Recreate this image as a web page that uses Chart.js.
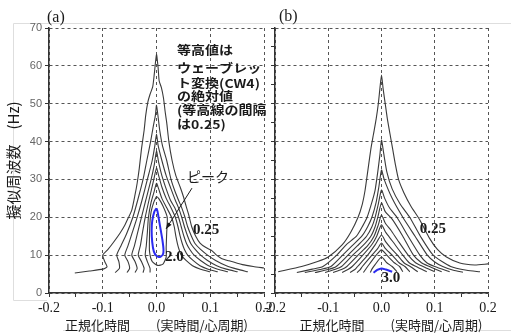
<!DOCTYPE html>
<html>
<head>
<meta charset="utf-8">
<script src="https://cdn.jsdelivr.net/npm/chart.js@4.4.1/dist/chart.umd.min.js"></script>
<style>
html, body { margin: 0; padding: 0; background: #fff; }
#wrap { position: relative; width: 511px; height: 333px; }
#wrap canvas { position: absolute; left: 0; top: 0; }
</style>
</head>
<body>
<div id="wrap">
  <canvas id="chartA" width="511" height="333"></canvas>
  <canvas id="chartB" width="511" height="333"></canvas>
</div>
<script>
// contour lines, [time, Hz]
// (a) levels 0.25 ... 1.75, peak (2.0) in blue
const contourA1 = [[-0.152,5.3],[-0.125,5.8],[-0.1,6.3],[-0.092,6.9],[-0.096,8.2],[-0.1,10],[-0.091,11.4],[-0.081,13.2],[-0.068,15.8],[-0.059,17.9],[-0.052,20],[-0.046,21.9],[-0.04,25.9],[-0.036,29],[-0.032,33],[-0.028,38],[-0.023,43],[-0.02,47],[-0.016,50.5],[-0.012,52.5],[-0.007,54.5],[-0.004,58],[0,63],[0.003,59.5],[0.005,56],[0.009,54.3],[0.013,51.5],[0.016,48],[0.019,45],[0.023,40],[0.029,35],[0.036,31],[0.044,28],[0.05,25.5],[0.055,23],[0.06,20.6],[0.0655,17.5],[0.073,15],[0.081,13.2],[0.092,12],[0.103,11.2],[0.11,10.2],[0.12,9.2],[0.135,8.5],[0.16,7.5],[0.18,7],[0.2,6.6]];
const contourA2 = [[-0.077,5.4],[-0.069,6.5],[-0.07,8.3],[-0.074,10],[-0.066,12.5],[-0.056,15.5],[-0.044,20],[-0.035,24.5],[-0.025,30],[-0.018,35],[-0.011,40],[-0.006,44],[-0.002,47],[0,49.6],[0.003,46.5],[0.006,43],[0.011,39],[0.019,35],[0.027,30],[0.034,27],[0.041,24.5],[0.047,22.5],[0.053,20],[0.058,17.5],[0.065,15],[0.072,13],[0.082,11.5],[0.095,10],[0.11,8.6],[0.13,7.2],[0.15,6.3],[0.17,5.6]];
const contourA3 = [[-0.055,5.4],[-0.05,6.5],[-0.053,8.3],[-0.059,10],[-0.053,12.5],[-0.045,16],[-0.036,20],[-0.027,24.5],[-0.017,30],[-0.008,35],[-0.003,39],[0,42],[0.003,39],[0.01,35],[0.018,31],[0.027,27.5],[0.035,24.5],[0.041,22.5],[0.047,20],[0.052,17.5],[0.058,15],[0.064,13],[0.072,11.5],[0.082,10],[0.095,8.6],[0.112,7.2],[0.13,6.3],[0.151,5.6]];
const contourA4 = [[-0.04,5.4],[-0.036,6.5],[-0.04,8.3],[-0.046,10],[-0.041,12.5],[-0.035,16],[-0.028,20],[-0.02,24.5],[-0.01,30],[-0.004,34],[0,37.5],[0.004,34.5],[0.01,31],[0.018,27.5],[0.026,24.5],[0.034,22.5],[0.041,20],[0.046,17.5],[0.051,15],[0.056,13],[0.062,11.5],[0.07,10],[0.082,8.6],[0.097,7.2],[0.114,6.3],[0.133,5.6]];
const contourA5 = [[-0.025,5.4],[-0.023,6.5],[-0.028,8.3],[-0.034,10],[-0.03,12.5],[-0.026,16],[-0.021,20],[-0.014,24.5],[-0.005,30],[0,33],[0.004,31],[0.01,28],[0.018,25],[0.027,22.5],[0.035,20],[0.04,17.5],[0.044,15],[0.048,13],[0.052,11.5],[0.058,10],[0.068,8.6],[0.081,7.2],[0.096,6.3],[0.114,5.6]];
const contourA6 = [[-0.012,5.4],[-0.012,6.5],[-0.017,8.3],[-0.021,10],[-0.019,12.5],[-0.017,16],[-0.015,20],[-0.01,24],[-0.004,27],[0,29],[0.004,27.5],[0.01,25],[0.019,22.5],[0.028,20],[0.033,17.5],[0.036,15],[0.039,13],[0.042,11.5],[0.046,10],[0.055,8.6],[0.067,7.2],[0.082,6.3],[0.1,5.6]];
const contourA7 = [[0,25.5],[-0.005,24],[-0.01,21.5],[-0.012,19],[-0.013,15],[-0.013,11],[-0.008,8.3],[0.002,7.3],[0.012,7.6],[0.018,9.5],[0.018,12],[0.019,16],[0.02,20],[0.012,23],[0.004,25],[0,25.5]];
const peakA = [[0,22.4],[-0.004,21.5],[-0.008,19],[-0.009,16.5],[-0.008,13.5],[-0.005,11],[0,9.8],[0.006,9.5],[0.012,10.2],[0.013,11.5],[0.011,14],[0.008,16.5],[0.005,19],[0.002,21.5],[0,22.4]];

// (b) levels 0.25 ... 2.75, peak (3.0) in blue
const contourB1 = [[-0.194,5.6],[-0.15,7],[-0.12,8.3],[-0.1,9.5],[-0.074,12.7],[-0.058,16],[-0.044,20],[-0.036,23.5],[-0.031,27],[-0.025,33],[-0.02,38],[-0.015,42],[-0.01,46],[-0.006,50],[-0.003,54],[0,57.6],[0.003,54],[0.007,50],[0.011,46],[0.016,42],[0.021,38],[0.026,34],[0.032,30],[0.042,26.5],[0.055,23],[0.072,19.3],[0.09,14.5],[0.105,11.5],[0.122,9.5],[0.147,7.9],[0.175,7.4],[0.2,7.7]];
const contourB2 = [[-0.159,5.4],[-0.13,6.3],[-0.11,7],[-0.084,10],[-0.066,12.8],[-0.047,15],[-0.035,17.8],[-0.027,20],[-0.018,24],[-0.012,27.2],[-0.007,32],[-0.003,36.5],[0,40.4],[0.004,37],[0.01,32],[0.02,27.5],[0.035,23.5],[0.053,20],[0.073,15],[0.097,10],[0.13,7],[0.16,6],[0.185,5.6]];
const contourB3 = [[-0.144,5.4],[-0.115,6.2],[-0.095,7],[-0.073,10],[-0.055,12.5],[-0.037,15],[-0.026,17.5],[-0.018,20],[-0.01,24],[-0.005,28],[0,32.5],[0.005,30],[0.02,25],[0.04,20],[0.063,15],[0.086,10],[0.1,8.2],[0.115,7],[0.135,6],[0.153,5.5]];
const contourB4 = [[-0.125,5.4],[-0.1,6.2],[-0.085,7],[-0.063,10],[-0.045,12.5],[-0.028,15],[-0.018,17.5],[-0.012,20],[-0.006,23.5],[0,27.2],[0.006,25],[0.015,22.5],[0.029,20],[0.05,15],[0.072,10],[0.085,8],[0.1,7],[0.128,5.6]];
const contourB5 = [[-0.106,5.4],[-0.088,6.2],[-0.075,7],[-0.054,10],[-0.035,12.5],[-0.02,15],[-0.012,17.5],[-0.007,20],[0,23.8],[0.007,21.5],[0.02,19.5],[0.04,15],[0.06,10],[0.075,8],[0.09,7],[0.113,5.6]];
const contourB6 = [[-0.091,5.4],[-0.075,6.2],[-0.065,7],[-0.044,10],[-0.026,12.5],[-0.014,15],[-0.006,18],[0,20.6],[0.007,18.5],[0.018,16.5],[0.03,14],[0.05,10],[0.064,8],[0.078,7],[0.1,5.6]];
const contourB7 = [[-0.074,5.4],[-0.063,6.2],[-0.055,7],[-0.035,10],[-0.018,12.8],[-0.009,15],[0,18],[0.008,16],[0.02,13.8],[0.04,10],[0.052,8],[0.065,7],[0.085,5.6]];
const contourB8 = [[-0.059,5.4],[-0.05,6.2],[-0.045,7],[-0.026,10],[-0.012,12.7],[0,15.3],[0.008,13.5],[0.018,11.8],[0.03,10],[0.042,8],[0.054,7],[0.068,5.6]];
const contourB9 = [[-0.046,5.4],[-0.04,6.2],[-0.036,7],[-0.018,10],[-0.007,11.8],[0,13.2],[0.007,11.8],[0.02,10],[0.033,8],[0.044,7],[0.053,5.6]];
const contourB10 = [[-0.034,5.4],[-0.03,6.2],[-0.026,7],[-0.01,10],[0,11.4],[0.01,10],[0.024,8],[0.034,7],[0.04,5.6]];
const contourB11 = [[-0.021,5.4],[-0.018,6.3],[-0.012,7.5],[0,9.5],[0.01,8],[0.02,7],[0.029,5.6]];
const peakB = [[-0.015,5.35],[-0.008,6.1],[0,6.5],[0.008,6.2],[0.02,5.6]];

const xTickLabels = ['-0.2', '-0.1', '0.0', '0.1', '0.2'];
const yTickLabels = ['0', '10', '20', '30', '40', '50', '60', '70'];
const noteLines = ['等高値は', 'ウェーブレッ', 'ト変換(CW4)', 'の絶対値', '(等高線の間隔', 'は0.25)'];

const lineColor = '#3a3a3a';
const blue = '#2b2bf0';

function lineSet(points, color, width) {
    return {
        data: points.map(p => ({ x: p[0], y: p[1] })),
        showLine: true,
        borderColor: color,
        borderWidth: width,
        pointRadius: 0,
        tension: 0.2,
        fill: false
    };
}

function isMajorX(v) { return Math.abs(Math.round(v * 20)) % 2 === 0; }
function isMajorY(v) { return Math.round(v) % 10 === 0; }

function xScale(showTitle) {
    return {
        type: 'linear',
        min: -0.2,
        max: 0.2,
        afterFit: s => { s.height = 40; },
        border: { color: '#333', width: 1.5, dash: [3, 3] },
        grid: {
            color: c => isMajorX(c.tick.value) ? '#555' : 'rgba(0,0,0,0)',
            tickColor: '#333',
            tickLength: 4
        },
        ticks: {
            stepSize: 0.05,
            autoSkip: false,
            maxRotation: 0,
            padding: 3,
            color: '#1a1a1a',
            font: { family: "'Liberation Serif', serif", size: 14 },
            callback: v => isMajorX(v) ? xTickLabels[Math.round(v * 10) + 2] : ''
        },
        title: {
            display: showTitle,
            text: '正規化時間　　(実時間/心周期)',
            color: '#1a1a1a',
            font: { family: "'Noto Sans CJK JP', sans-serif", size: 13 },
            padding: { top: 0, bottom: 0 }
        }
    };
}

function yScale(width, step, showLabels) {
    return {
        type: 'linear',
        min: 0,
        max: 70,
        afterFit: s => { s.width = width; },
        border: { color: '#333', width: 1.5, dash: [3, 3] },
        grid: {
            color: c => isMajorY(c.tick.value) ? '#555' : 'rgba(0,0,0,0)',
            tickColor: '#333',
            tickLength: 4
        },
        ticks: {
            stepSize: step,
            autoSkip: false,
            padding: 3,
            color: '#666',
            font: { family: "'Liberation Sans', sans-serif", size: 11 },
            callback: v => (showLabels && isMajorY(v)) ? yTickLabels[Math.round(v / 10)] : ''
        },
        title: {
            display: showLabels,
            text: '擬似周波数　(Hz)',
            color: '#1a1a1a',
            font: { family: "'Noto Sans CJK JP', sans-serif", size: 15 },
            padding: { top: 4, bottom: 0 }
        }
    };
}

function arrow(ctx, x1, y1, x2, y2) {
    const a = Math.atan2(y2 - y1, x2 - x1);
    ctx.beginPath();
    ctx.moveTo(x1, y1);
    ctx.lineTo(x2, y2);
    ctx.stroke();
    ctx.beginPath();
    ctx.moveTo(x2, y2);
    ctx.lineTo(x2 - 7 * Math.cos(a - 0.35), y2 - 7 * Math.sin(a - 0.35));
    ctx.lineTo(x2 - 7 * Math.cos(a + 0.35), y2 - 7 * Math.sin(a + 0.35));
    ctx.closePath();
    ctx.fill();
}

// wide, squat text like the note in the picture
function wideText(ctx, t, x, y, sx) {
    ctx.save();
    ctx.translate(x, y);
    ctx.scale(sx, 1);
    ctx.fillText(t, 0, 0);
    ctx.restore();
}

// faint frame + texts of panel (a)
const notesA = {
    id: 'notesA',
    beforeDraw(chart) {
        const ctx = chart.ctx;
        ctx.save();
        ctx.strokeStyle = '#dedede';
        ctx.lineWidth = 1;
        ctx.beginPath();
        ctx.moveTo(511, 23.5); ctx.lineTo(13.5, 23.5); ctx.lineTo(13.5, 300.5); ctx.lineTo(47, 300.5);
        ctx.moveTo(63, 330.5); ctx.lineTo(511, 330.5);
        ctx.stroke();
        ctx.restore();
    },
    afterDraw(chart) {
        const { ctx, chartArea: area, scales: { x, y } } = chart;
        ctx.save();
        ctx.fillStyle = '#1a1a1a';
        ctx.strokeStyle = '#1a1a1a';
        ctx.textBaseline = 'middle';
        ctx.textAlign = 'left';
        ctx.font = "16px 'Liberation Serif', serif";
        ctx.fillText('(a)', area.left - 2, area.top - 10);

        ctx.font = "bold 12px 'Noto Sans CJK JP', sans-serif";
        const rows = [22.5, 40, 55, 68.5, 82, 96.5];
        noteLines.forEach((t, i) => wideText(ctx, t, 177, area.top + rows[i], 1.17));

        ctx.font = "14px 'Noto Sans CJK JP', sans-serif";
        ctx.fillText('ピーク', 187, 177);
        ctx.lineWidth = 1;
        arrow(ctx, x.getPixelForValue(0.066), y.getPixelForValue(27.7), x.getPixelForValue(0.0177), y.getPixelForValue(16.9));

        ctx.font = "bold 15px 'Liberation Serif', serif";
        ctx.fillText('0.25', x.getPixelForValue(0.068), y.getPixelForValue(16.6));
        ctx.fillText('2.0', x.getPixelForValue(0.0158), y.getPixelForValue(9.6));
        ctx.restore();
    }
};

const notesB = {
    id: 'notesB',
    afterDraw(chart) {
        const { ctx, chartArea: area, scales: { x, y } } = chart;
        ctx.save();
        ctx.fillStyle = '#1a1a1a';
        ctx.textBaseline = 'middle';
        ctx.textAlign = 'left';
        ctx.font = "16px 'Liberation Serif', serif";
        ctx.fillText('(b)', area.left + 4, area.top - 11);

        ctx.font = "bold 15px 'Liberation Serif', serif";
        ctx.fillText('0.25', x.getPixelForValue(0.072), y.getPixelForValue(16.9));
        ctx.fillText('3.0', x.getPixelForValue(0.0), y.getPixelForValue(3.9));

        ctx.textAlign = 'center';
        ctx.font = "13px 'Noto Sans CJK JP', sans-serif";
        ctx.fillText('正規化時間　　(実時間/心周期)', 391, 325);
        ctx.restore();
    }
};

const commonOptions = {
    responsive: false,
    animation: false,
    plugins: { legend: { display: false }, tooltip: { enabled: false } }
};

new Chart(document.getElementById('chartA'), {
    type: 'scatter',
    data: {
        datasets: [contourA1, contourA2, contourA3, contourA4, contourA5, contourA6, contourA7]
            .map(c => lineSet(c, lineColor, 1.1))
            .concat([lineSet(peakA, blue, 2)])
    },
    options: Object.assign({}, commonOptions, {
        layout: { padding: { left: 0, right: 247, top: 28, bottom: 0 } },
        scales: { x: xScale(true), y: yScale(49, 10, true) }
    }),
    plugins: [notesA]
});

new Chart(document.getElementById('chartB'), {
    type: 'scatter',
    data: {
        datasets: [contourB1, contourB2, contourB3, contourB4, contourB5, contourB6, contourB7, contourB8, contourB9, contourB10, contourB11]
            .map(c => lineSet(c, lineColor, 1.1))
            .concat([lineSet(peakB, blue, 2)])
    },
    options: Object.assign({}, commonOptions, {
        layout: { padding: { left: 0, right: 23, top: 28, bottom: 0 } },
        scales: { x: xScale(false), y: yScale(275, 5, false) }
    }),
    plugins: [notesB]
});
</script>
</body>
</html>
